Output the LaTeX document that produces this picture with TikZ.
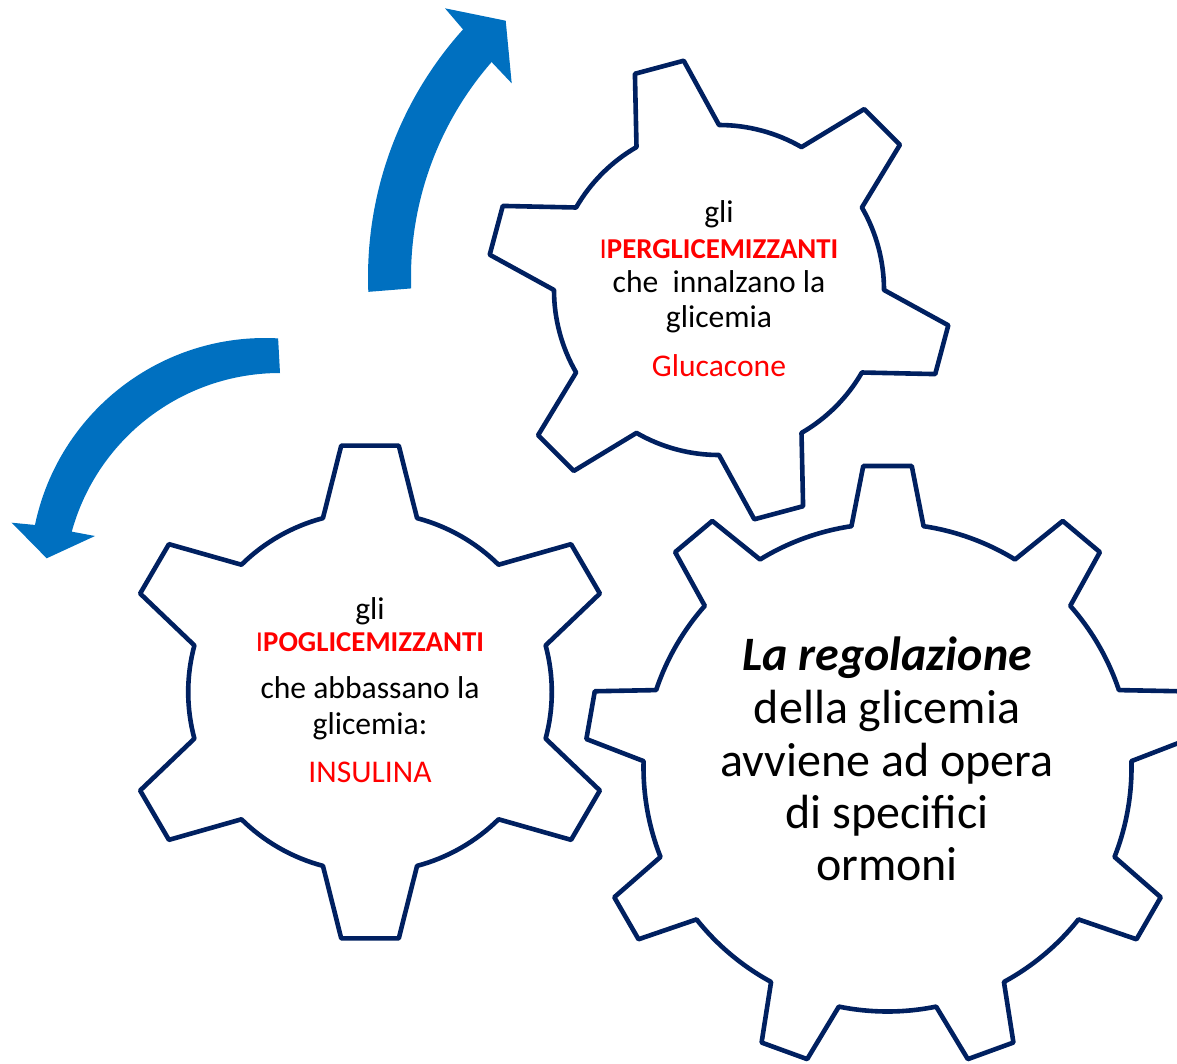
\documentclass[tikz,border=0pt]{standalone}
\usepackage{fontspec}
\setmainfont{Carlito}
\definecolor{cogblue}{HTML}{002060}
\definecolor{arrowblue}{HTML}{0070C0}
\definecolor{hotred}{HTML}{FF0000}

% One cog outline: #1 centre, #2 teeth, #3 root radius, #4 tip radius,
% #5 half angle of a tooth at the root, #6 half angle at the tip,
% #7 angle of the first tooth, #8 extra scope options
\newcommand\drawcog[8]{%
  \begin{scope}[shift={#1},#8]
    \draw[cog] (#7+#5:#3pt)
      \foreach \k [evaluate=\k as \ta using #7-(\k-1)*360/#2] in {1,...,#2}{
        -- (\ta+#6:#4pt) -- (\ta-#6:#4pt) -- (\ta-#5:#3pt)
        arc[start angle=\ta-#5, end angle=\ta-360/#2+#5, radius=#3pt]
      } -- cycle;
  \end{scope}}

\begin{document}
\begin{tikzpicture}[x=1pt,y=-1pt,
  cog/.style={draw=cogblue, line width=4.6pt, line join=round, fill=white},
  bendarrow/.style={fill=arrowblue, draw=none},
  smalltxt/.style={font=\fontsize{31.6}{38}\selectfont, anchor=base, inner sep=0pt},
  bigtxt/.style={font=\fontsize{48}{58}\selectfont, anchor=base, inner sep=0pt},
  hot/.style={text=hotred},
  heavy/.style={font=\fontsize{28.8}{34}\selectfont},
]
\useasboundingbox (0,0) rectangle (1177,1063);
\clip (0,0) rectangle (1177,1063);

% curved arrows
\fill[bendarrow]
  ([shift={(738,277)}]182.3:370pt) arc[start angle=182.3, end angle=138.0, radius=370pt]
  -- (445,8.3) -- (505.7,20.7) -- (511.7,83.3)
  -- ([shift={(738,277)}]138.9:327pt) arc[start angle=138.9, end angle=182.0, radius=327pt]
  -- cycle;
\fill[bendarrow]
  ([shift={(265,573)}]86.8:235pt) arc[start angle=86.8, end angle=168.2, radius=235pt]
  -- (11.7,522.7) -- (46.7,558.3) -- (95,536)
  -- ([shift={(280,589)}]164.6:216pt) arc[start angle=164.6, end angle=90, radius=216pt]
  -- cycle;

% cogs
\drawcog{(719,290)}{6}{165}{232}{15}{6.25}{105}{}
\drawcog{(370,692)}{6}{180}{248}{15}{6.6}{90}{xscale=1.01}
\drawcog{(887.5,767.5)}{9}{244}{302.5}{8.5}{4.6}{90}{}

% upper cog text
\node[smalltxt] (g1a) at (719,222.7) {gli};
\node[smalltxt, heavy, hot] (g1b) at (719,258.3) {I\textbf{PERGLICEMIZZANTI}};
\node[smalltxt] (g1c) at (719,292.3) {che~ innalzano la};
\node[smalltxt] (g1d) at (719,327.3) {glicemia};
\node[smalltxt, hot] (g1e) at (719,376.7) {Glucacone};

% left cog text
\node[smalltxt] (g2a) at (370,619) {gli};
\node[smalltxt, heavy, hot] (g2b) at (370,651.7) {I\textbf{POGLICEMIZZANTI}};
\node[smalltxt] (g2c) at (370,698.5) {che abbassano la};
\node[smalltxt] (g2d) at (370,734.5) {glicemia:};
\node[smalltxt, hot] (g2e) at (370,782) {INSULINA};

% large cog text
\node[bigtxt] (g3a) at (887,670) {\textbf{\textit{La regolazione}}};
\node[bigtxt] (g3b) at (887,723.3) {della glicemia};
\node[bigtxt] (g3c) at (887,776) {avviene ad opera};
\node[bigtxt] (g3d) at (887,828.3) {di specifici};
\node[bigtxt] (g3e) at (887,880.7) {ormoni};
\end{tikzpicture}
\end{document}
